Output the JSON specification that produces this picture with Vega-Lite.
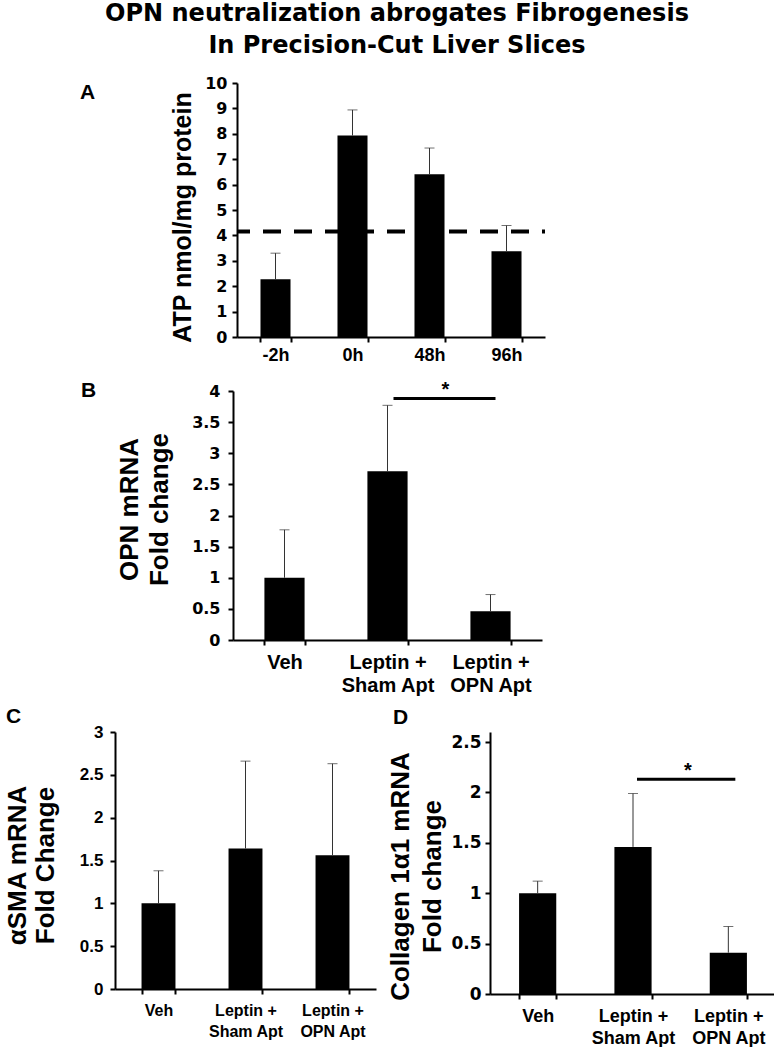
{
  "$schema": "https://vega.github.io/schema/vega-lite/v6.json",
  "background": "white",
  "padding": {"left": 0, "top": 2, "right": 0, "bottom": 0},
  "title": {
    "text": ["OPN neutralization abrogates Fibrogenesis", "In Precision-Cut Liver Slices"],
    "anchor": "middle", "font": "DejaVu Sans", "fontSize": 24, "fontWeight": "bold",
    "color": "#000", "lineHeight": 32, "offset": 17, "dx": 9
  },
  "spacing": 10,
  "vconcat": [
    {
      "spacing": 0,
      "hconcat": [
        {"width": 80, "height": 287, "data": {"values": []}, "mark": "point"},
        {
          "width": 308, "height": 254,
          "title": {"text": "A", "anchor": "start", "frame": "group", "orient": "top", "offset": 0, "dx": -157, "dy": 45, "baseline": "alphabetic", "font": "Liberation Sans", "fontSize": 21, "fontWeight": "bold", "color": "#000"},
          "data": {"values": [
            {"time": "-2h", "value": 2.27, "upper": 3.3},
            {"time": "0h", "value": 7.93, "upper": 8.94},
            {"time": "48h", "value": 6.41, "upper": 7.44},
            {"time": "96h", "value": 3.38, "upper": 4.39}
          ]},
          "layer": [
            {"mark": {"type": "bar", "color": "#000"},
             "encoding": {
               "x": {"field": "time", "type": "nominal", "title": null,
                 "scale": {"domain": ["-2h", "0h", "48h", "96h"], "paddingInner": 0.61, "paddingOuter": 0.305},
                 "axis": {"tickBand": "extent", "labelAngle": 0, "labelFontSize": 18, "labelPadding": 4}},
               "y": {"field": "value", "type": "quantitative", "title": "ATP nmol/mg protein",
                 "scale": {"domain": [0, 10]},
                 "axis": {"values": [0, 1, 2, 3, 4, 5, 6, 7, 8, 9, 10], "tickCount": 30, "labelOverlap": false, "labelExpr": "format(datum.value, '~g')", "labelFont": "DejaVu Sans", "labelFontSize": 16, "labelPadding": 5, "titleFontSize": 25, "titleX": -47, "titleY": 134, "titleBaseline": "alphabetic"}}}},
            {"mark": {"type": "rule", "color": "#333", "strokeWidth": 1},
             "encoding": {
               "x": {"field": "time", "type": "nominal", "title": null},
               "y": {"field": "value", "type": "quantitative"}, "y2": {"field": "upper"}}},
            {"mark": {"type": "tick", "color": "#333", "thickness": 1, "size": 10},
             "encoding": {
               "x": {"field": "time", "type": "nominal", "title": null},
               "y": {"field": "upper", "type": "quantitative"}}},
            {"data": {"values": [{"level": 4.15}]},
             "mark": {"type": "rule", "color": "#000", "strokeWidth": 4, "strokeDash": [18, 13], "strokeDashOffset": 15},
             "encoding": {"y": {"field": "level", "type": "quantitative"}}}
          ]
        }
      ]
    },
    {
      "spacing": 0,
      "hconcat": [
        {"width": 81, "height": 305, "data": {"values": []}, "mark": "point"},
        {
          "width": 309, "height": 249,
          "title": {"text": "B", "anchor": "start", "frame": "group", "orient": "top", "offset": 0, "dx": -152, "dy": 38, "baseline": "alphabetic", "font": "Liberation Sans", "fontSize": 21, "fontWeight": "bold", "color": "#000"},
          "data": {"values": [
            {"group": "Veh", "value": 1.0, "upper": 1.77},
            {"group": "Leptin +|Sham Apt", "value": 2.71, "upper": 3.77},
            {"group": "Leptin +|OPN Apt", "value": 0.46, "upper": 0.73}
          ]},
          "layer": [
            {"mark": {"type": "bar", "color": "#000"},
             "encoding": {
               "x": {"field": "group", "type": "nominal", "title": null,
                 "scale": {"domain": ["Veh", "Leptin +|Sham Apt", "Leptin +|OPN Apt"], "paddingInner": 0.61, "paddingOuter": 0.305},
                 "axis": {"tickBand": "extent", "labelAngle": 0, "labelFontSize": 20, "labelPadding": 7, "labelLineHeight": 23, "labelExpr": "split(datum.label, '|')"}},
               "y": {"field": "value", "type": "quantitative", "title": ["OPN mRNA", "Fold change"],
                 "scale": {"domain": [0, 4]},
                 "axis": {"values": [0, 0.5, 1, 1.5, 2, 2.5, 3, 3.5, 4], "tickCount": 30, "labelOverlap": false, "labelExpr": "format(datum.value, '~g')", "labelFont": "DejaVu Sans", "labelFontSize": 16, "labelPadding": 8, "titleFontSize": 26, "titleX": -96, "titleY": 118, "titleLineHeight": 30, "titleBaseline": "alphabetic"}}}},
            {"mark": {"type": "rule", "color": "#333", "strokeWidth": 1},
             "encoding": {
               "x": {"field": "group", "type": "nominal", "title": null},
               "y": {"field": "value", "type": "quantitative"}, "y2": {"field": "upper"}}},
            {"mark": {"type": "tick", "color": "#333", "thickness": 1, "size": 10},
             "encoding": {
               "x": {"field": "group", "type": "nominal", "title": null},
               "y": {"field": "upper", "type": "quantitative"}}},
            {"data": {"values": [{"from": "Leptin +|Sham Apt", "to": "Leptin +|OPN Apt", "level": 3.88, "sig": "*"}]},
             "mark": {"type": "rule", "color": "#000", "strokeWidth": 3, "xOffset": 6, "x2Offset": 5},
             "encoding": {
               "x": {"field": "from", "type": "nominal", "title": null},
               "x2": {"field": "to"},
               "y": {"field": "level", "type": "quantitative"}}},
            {"data": {"values": [{"from": "Leptin +|Sham Apt", "to": "Leptin +|OPN Apt", "level": 3.88, "sig": "*"}]},
             "mark": {"type": "text", "font": "Liberation Sans", "fontSize": 20, "fontWeight": "bold", "baseline": "alphabetic", "dx": 58, "dy": -2, "color": "#000"},
             "encoding": {
               "x": {"field": "from", "type": "nominal", "title": null},
               "y": {"field": "level", "type": "quantitative"},
               "text": {"field": "sig"}}}
          ]
        }
      ]
    },
    {
      "spacing": 0,
      "hconcat": [
        {"width": 3, "height": 10, "data": {"values": []}, "mark": "point"},
        {
          "spacing": 10,
          "hconcat": [
            {
              "width": 261, "height": 257,
              "title": {"text": "C", "anchor": "start", "frame": "group", "orient": "top", "offset": 0, "dx": -109, "dy": 21, "baseline": "alphabetic", "font": "Liberation Sans", "fontSize": 21, "fontWeight": "bold", "color": "#000"},
              "data": {"values": [
                {"group": "Veh", "value": 1.0, "upper": 1.38},
                {"group": "Leptin +|Sham Apt", "value": 1.64, "upper": 2.66},
                {"group": "Leptin +|OPN Apt", "value": 1.56, "upper": 2.63}
              ]},
              "layer": [
                {"mark": {"type": "bar", "color": "#000"},
                 "encoding": {
                   "x": {"field": "group", "type": "nominal", "title": null,
                     "scale": {"domain": ["Veh", "Leptin +|Sham Apt", "Leptin +|OPN Apt"], "paddingInner": 0.61, "paddingOuter": 0.305},
                     "axis": {"tickBand": "extent", "labelAngle": 0, "labelFontSize": 16, "labelPadding": 8, "labelLineHeight": 21.6, "labelExpr": "split(datum.label, '|')"}},
                   "y": {"field": "value", "type": "quantitative", "title": ["αSMA mRNA", "Fold Change"],
                     "scale": {"domain": [0, 3]},
                     "axis": {"values": [0, 0.5, 1, 1.5, 2, 2.5, 3], "tickCount": 30, "labelOverlap": false, "labelExpr": "format(datum.value, '~g')", "labelFont": "Liberation Sans", "labelFontSize": 17, "labelPadding": 7, "titleFontSize": 26, "titleX": -90, "titleY": 133, "titleLineHeight": 28, "titleBaseline": "alphabetic"}}}},
                {"mark": {"type": "rule", "color": "#333", "strokeWidth": 1},
                 "encoding": {
                   "x": {"field": "group", "type": "nominal", "title": null},
                   "y": {"field": "value", "type": "quantitative"}, "y2": {"field": "upper"}}},
                {"mark": {"type": "tick", "color": "#333", "thickness": 1, "size": 10},
                 "encoding": {
                   "x": {"field": "group", "type": "nominal", "title": null},
                   "y": {"field": "upper", "type": "quantitative"}}}
              ]
            },
            {
              "width": 286, "height": 262,
              "title": {"text": "D", "anchor": "start", "frame": "group", "orient": "top", "offset": 0, "dx": -97, "dy": 13, "baseline": "alphabetic", "font": "Liberation Sans", "fontSize": 21, "fontWeight": "bold", "color": "#000"},
              "data": {"values": [
                {"group": "Veh", "value": 1.0, "upper": 1.12},
                {"group": "Leptin +|Sham Apt", "value": 1.46, "upper": 1.99},
                {"group": "Leptin +|OPN Apt", "value": 0.41, "upper": 0.67}
              ]},
              "layer": [
                {"mark": {"type": "bar", "color": "#000"},
                 "encoding": {
                   "x": {"field": "group", "type": "nominal", "title": null,
                     "scale": {"domain": ["Veh", "Leptin +|Sham Apt", "Leptin +|OPN Apt"], "paddingInner": 0.61, "paddingOuter": 0.305},
                     "axis": {"tickBand": "extent", "labelAngle": 0, "labelFontSize": 18, "labelPadding": 8, "labelLineHeight": 22, "labelExpr": "split(datum.label, '|')"}},
                   "y": {"field": "value", "type": "quantitative", "title": ["Collagen 1α1 mRNA", "Fold change"],
                     "scale": {"domain": [0, 2.5]},
                     "axis": {"values": [0, 0.5, 1, 1.5, 2, 2.5], "tickCount": 30, "labelOverlap": false, "labelExpr": "format(datum.value, '~g')", "labelFont": "DejaVu Sans", "labelFontSize": 17, "labelPadding": 4, "titleFontSize": 26, "titleX": -82, "titleY": 144, "titleLineHeight": 32, "titleBaseline": "alphabetic"}}}},
                {"mark": {"type": "rule", "color": "#333", "strokeWidth": 1},
                 "encoding": {
                   "x": {"field": "group", "type": "nominal", "title": null},
                   "y": {"field": "value", "type": "quantitative"}, "y2": {"field": "upper"}}},
                {"mark": {"type": "tick", "color": "#333", "thickness": 1, "size": 10},
                 "encoding": {
                   "x": {"field": "group", "type": "nominal", "title": null},
                   "y": {"field": "upper", "type": "quantitative"}}},
                {"data": {"values": [{"from": "Leptin +|Sham Apt", "to": "Leptin +|OPN Apt", "level": 2.13, "sig": "*"}]},
                 "mark": {"type": "rule", "color": "#000", "strokeWidth": 3, "xOffset": 4, "x2Offset": 7},
                 "encoding": {
                   "x": {"field": "from", "type": "nominal", "title": null},
                   "x2": {"field": "to"},
                   "y": {"field": "level", "type": "quantitative"}}},
                {"data": {"values": [{"from": "Leptin +|Sham Apt", "to": "Leptin +|OPN Apt", "level": 2.13, "sig": "*"}]},
                 "mark": {"type": "text", "font": "Liberation Sans", "fontSize": 20, "fontWeight": "bold", "baseline": "alphabetic", "dx": 55, "dy": -2, "color": "#000"},
                 "encoding": {
                   "x": {"field": "from", "type": "nominal", "title": null},
                   "y": {"field": "level", "type": "quantitative"},
                   "text": {"field": "sig"}}}
              ]
            }
          ]
        }
      ]
    }
  ],
  "config": {
    "view": {"stroke": null},
    "axis": {
      "domainColor": "#000", "domainWidth": 2, "tickColor": "#000", "tickWidth": 2, "tickSize": 5,
      "labelColor": "#000", "titleColor": "#000", "grid": false,
      "labelFont": "Liberation Sans", "labelFontWeight": "bold",
      "titleFont": "Liberation Sans", "titleFontWeight": "bold"
    },
    "title": {"color": "#000"}
  }
}
